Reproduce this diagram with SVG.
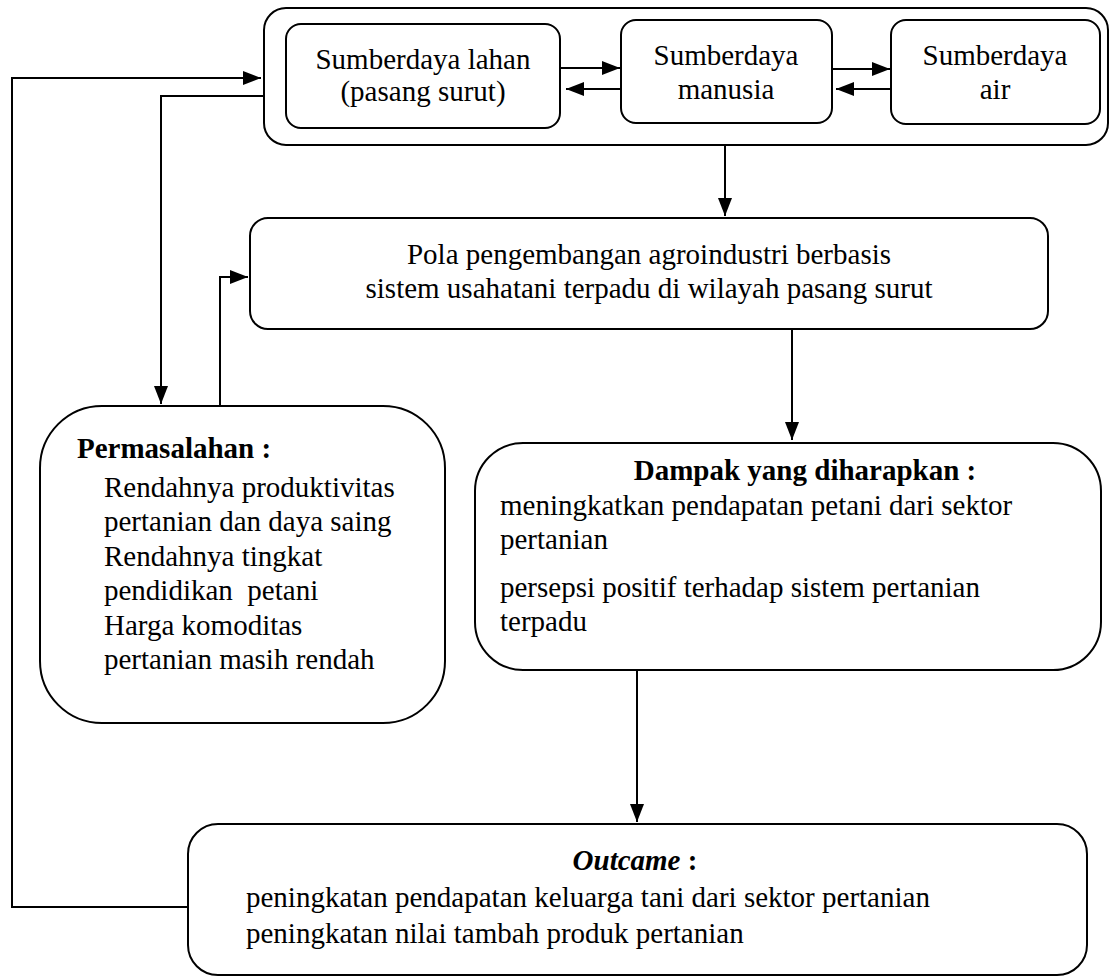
<svg xmlns="http://www.w3.org/2000/svg" width="1110" height="977" viewBox="0 0 1110 977">
<style>
.box{fill:#fff;stroke:#000;stroke-width:2}
text{font-family:'Liberation Serif','Times New Roman',serif;font-size:29px;fill:#000}
.c{text-anchor:middle}
.b{font-weight:bold}
.ln{fill:none;stroke:#000;stroke-width:2}
</style>
<defs>
<marker id="ah" markerUnits="userSpaceOnUse" markerWidth="18" markerHeight="14" refX="18" refY="7" orient="auto">
<path d="M0,0 L18,7 L0,14 z" fill="#000"/>
</marker>
</defs>
<rect width="1110" height="977" fill="#fff"/>
<g id="sumberdaya">
<rect class="box" x="264" y="8" width="844" height="137" rx="22"/>
</g>
<g id="connectors">
<path class="ln" d="M190,907 H12 V78 H261" marker-end="url(#ah)"/>
<path class="ln" d="M263,96 H161 V404" marker-end="url(#ah)"/>
<path class="ln" d="M220,406 V277 H248" marker-end="url(#ah)"/>
<path class="ln" d="M725,145 V216" marker-end="url(#ah)"/>
<path class="ln" d="M792,330 V440" marker-end="url(#ah)"/>
<path class="ln" d="M637,670 V822" marker-end="url(#ah)"/>
<path class="ln" d="M561,68 H620" marker-end="url(#ah)"/>
<path class="ln" d="M621,89 H566" marker-end="url(#ah)"/>
<path class="ln" d="M832,69 H890" marker-end="url(#ah)"/>
<path class="ln" d="M891,89 H836" marker-end="url(#ah)"/>
</g>
<g id="lahan">
<rect class="box" x="286" y="24" width="274" height="104" rx="15"/>
<text class="c" x="423" y="69">Sumberdaya lahan</text>
<text class="c" x="423" y="101">(pasang surut)</text>
</g>
<g id="manusia">
<rect class="box" x="621" y="20" width="211" height="103" rx="15"/>
<text class="c" x="726" y="65">Sumberdaya</text>
<text class="c" x="726" y="99">manusia</text>
</g>
<g id="air">
<rect class="box" x="891" y="20" width="209" height="104" rx="15"/>
<text class="c" x="995" y="65">Sumberdaya</text>
<text class="c" x="995" y="99">air</text>
</g>
<g id="pola">
<rect class="box" x="250" y="218" width="798" height="111" rx="18"/>
<text class="c" x="649" y="264">Pola pengembangan agroindustri berbasis</text>
<text class="c" x="649" y="298">sistem usahatani terpadu di wilayah pasang surut</text>
</g>
<g id="permasalahan">
<rect class="box" x="40" y="406" width="405" height="317" rx="62"/>
<text class="b" x="77" y="458">Permasalahan :</text>
<text x="104" y="497">Rendahnya produktivitas</text>
<text x="104" y="531">pertanian dan daya saing</text>
<text x="104" y="566">Rendahnya tingkat</text>
<text x="104" y="600" xml:space="preserve">pendidikan  petani</text>
<text x="104" y="635">Harga komoditas</text>
<text x="104" y="669">pertanian masih rendah</text>
</g>
<g id="dampak">
<rect class="box" x="475" y="443" width="626" height="227" rx="48"/>
<text class="c b" x="805" y="480">Dampak yang diharapkan :</text>
<text x="500" y="515">meningkatkan pendapatan petani dari sektor</text>
<text x="500" y="549">pertanian</text>
<text x="500" y="597">persepsi positif terhadap sistem pertanian</text>
<text x="500" y="631">terpadu</text>
</g>
<g id="outcome">
<rect class="box" x="188" y="824" width="899" height="151" rx="30"/>
<text class="c b" x="635" y="870"><tspan font-style="italic">Outcame</tspan> :</text>
<text x="246" y="907">peningkatan pendapatan keluarga tani dari sektor pertanian</text>
<text x="246" y="943">peningkatan nilai tambah produk pertanian</text>
</g>
</svg>
